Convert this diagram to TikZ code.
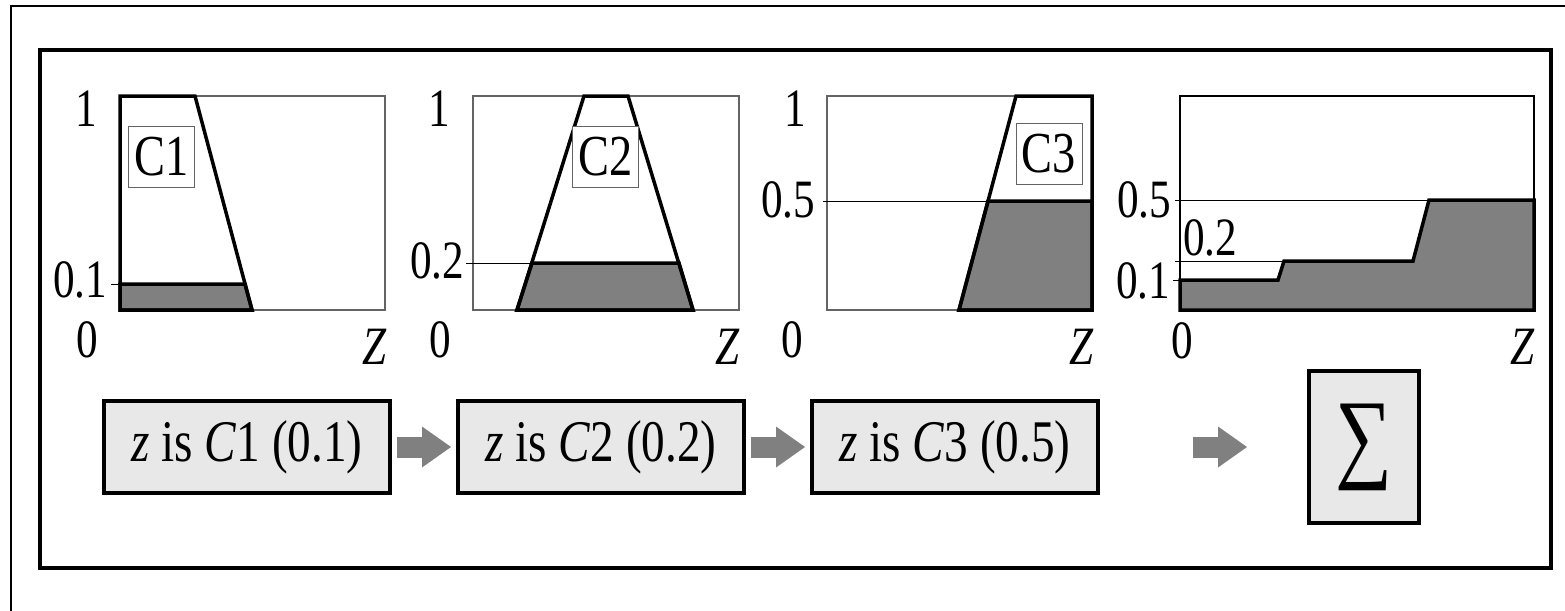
\documentclass[tikz,border=0pt]{standalone}
\usepackage{fontspec}
\setmainfont{Liberation Serif}[FakeStretch=0.8]
\usetikzlibrary{arrows.meta, positioning}
\definecolor{boxgray}{RGB}{232, 232, 232}
\definecolor{areagray}{RGB}{128, 128, 128}
\definecolor{framegray}{RGB}{100, 100, 100}
\newcommand{\axisfont}{\fontsize{54}{54}\selectfont}
\newcommand{\tagfont}{\fontsize{58}{58}\selectfont}
\newcommand{\rulefont}{\fontsize{59}{59}\selectfont}
\tikzset{
  chartframe/.style = {draw = framegray, line width = 1.2},
  cut/.style = {draw = black, line width = 1},
  memb/.style = {draw = black, line width = 3.5, line join = miter},
  area/.style = {fill = areagray, draw = black, line width = 3.5},
  tagbox/.style = {draw = framegray, fill = white, line width = 1, minimum width = 66, minimum height = 61, inner sep = 0, font = \tagfont},
  lbl/.style = {anchor = base, inner sep = 0, font = \axisfont},
  rulebox/.style = {draw = black, fill = boxgray, line width = 4, minimum width = 286, minimum height = 92, inner sep = 0, font = \rulefont},
  sumbox/.style = {draw = black, fill = boxgray, line width = 4, minimum width = 110, minimum height = 152, inner sep = 0, font = \fontsize{100}{100}\selectfont},
  blockarrow/.style = {draw = areagray, line width = 21, -{Triangle[length = 29pt, width = 41pt, line width = 0pt]}}
}

\begin{document}
\begin{tikzpicture}[x = 1pt, y = -1pt]
\clip (0, 0) rectangle (1565, 610);
\draw[line width = 2] (11, 6) rectangle (1600, 640);
\draw[line width = 4] (40, 50) rectangle (1551, 568);

\begin{scope}[xshift = 120pt]
\draw[chartframe] (0, 96) rectangle (265, 310);
\draw[cut] (-9, 284) -- (0, 284);
\filldraw[area] (0, 284) -- (125, 284) -- (132, 310) -- (0, 310) -- cycle;
\draw[memb] (0, 310) -- (0, 96) -- (75, 96) -- (132, 310) -- cycle;
\node[tagbox] (c1) at (41.5, 156.5) {C1};
\node[lbl] (top1) at (-34, 126) {1};
\node[lbl] (lev1) at (-40, 297) {0.1};
\node[lbl] (zero1) at (-33, 357) {0};
\node[lbl] (axis1) at (255, 364) {\textit{Z}};
\end{scope}

\begin{scope}[xshift = 473pt]
\draw[chartframe] (0, 96) rectangle (266, 310);
\draw[cut] (-7, 263) -- (59, 263);
\filldraw[area] (59, 263) -- (206, 263) -- (220, 310) -- (44, 310) -- cycle;
\draw[memb] (44, 310) -- (111, 96) -- (155, 96) -- (220, 310) -- cycle;
\node[tagbox] (c2) at (132.5, 156.5) {C2};
\node[lbl] (top2) at (-34, 126) {1};
\node[lbl] (lev2) at (-36, 278) {0.2};
\node[lbl] (zero2) at (-33, 357) {0};
\node[lbl] (axis2) at (255, 364) {\textit{Z}};
\end{scope}

\begin{scope}[xshift = 827pt]
\draw[chartframe] (0, 96) rectangle (265, 310);
\draw[cut] (-4, 201) -- (161, 201);
\filldraw[area] (161, 201) -- (265, 201) -- (265, 310) -- (132, 310) -- cycle;
\draw[memb] (132, 310) -- (189, 96) -- (265, 96) -- (265, 310) -- cycle;
\node[tagbox] (c3) at (222, 153.5) {C3};
\node[lbl] (top3) at (-32, 126) {1};
\node[lbl] (lev3) at (-39, 217) {0.5};
\node[lbl] (zero3) at (-35, 357) {0};
\node[lbl] (axis3) at (255, 364) {\textit{Z}};
\end{scope}

\begin{scope}[xshift = 1180pt]
\draw[chartframe, draw = black] (0, 96) rectangle (354, 310);
\draw[cut] (-5, 200) -- (249, 200);
\draw[cut] (-5, 261) -- (104, 261);
\draw[cut] (-7, 280) -- (0, 280);
\filldraw[area] (0, 310) -- (0, 280) -- (98, 280) -- (104, 261) -- (233, 261)
  -- (249, 200) -- (354, 200) -- (354, 310) -- cycle;
\node[lbl] (lev5) at (-36, 217) {0.5};
\node[lbl] (lev2b) at (30, 255) {0.2};
\node[lbl] (lev1b) at (-37, 298) {0.1};
\node[lbl] (zero4) at (2, 358) {0};
\node[lbl] (axis4) at (343, 364) {\textit{Z}};
\end{scope}

\node[rulebox] (r1) at (247, 447) {\textit{z} is \textit{C}1 (0.1)};
\node[rulebox, right = 64pt of r1] (r2) {\textit{z} is \textit{C}2 (0.2)};
\node[rulebox, right = 64pt of r2] (r3) {\textit{z} is \textit{C}3 (0.5)};
\node[sumbox, right = 207pt of r3] (sum) {∑};

\draw[blockarrow, shorten < = 5pt, shorten > = 5pt] (r1) -- (r2);
\draw[blockarrow, shorten < = 5pt, shorten > = 5pt] (r2) -- (r3);
\draw[blockarrow, shorten < = 93pt, shorten > = 60pt] (r3) -- (sum);
\end{tikzpicture}
\end{document}
